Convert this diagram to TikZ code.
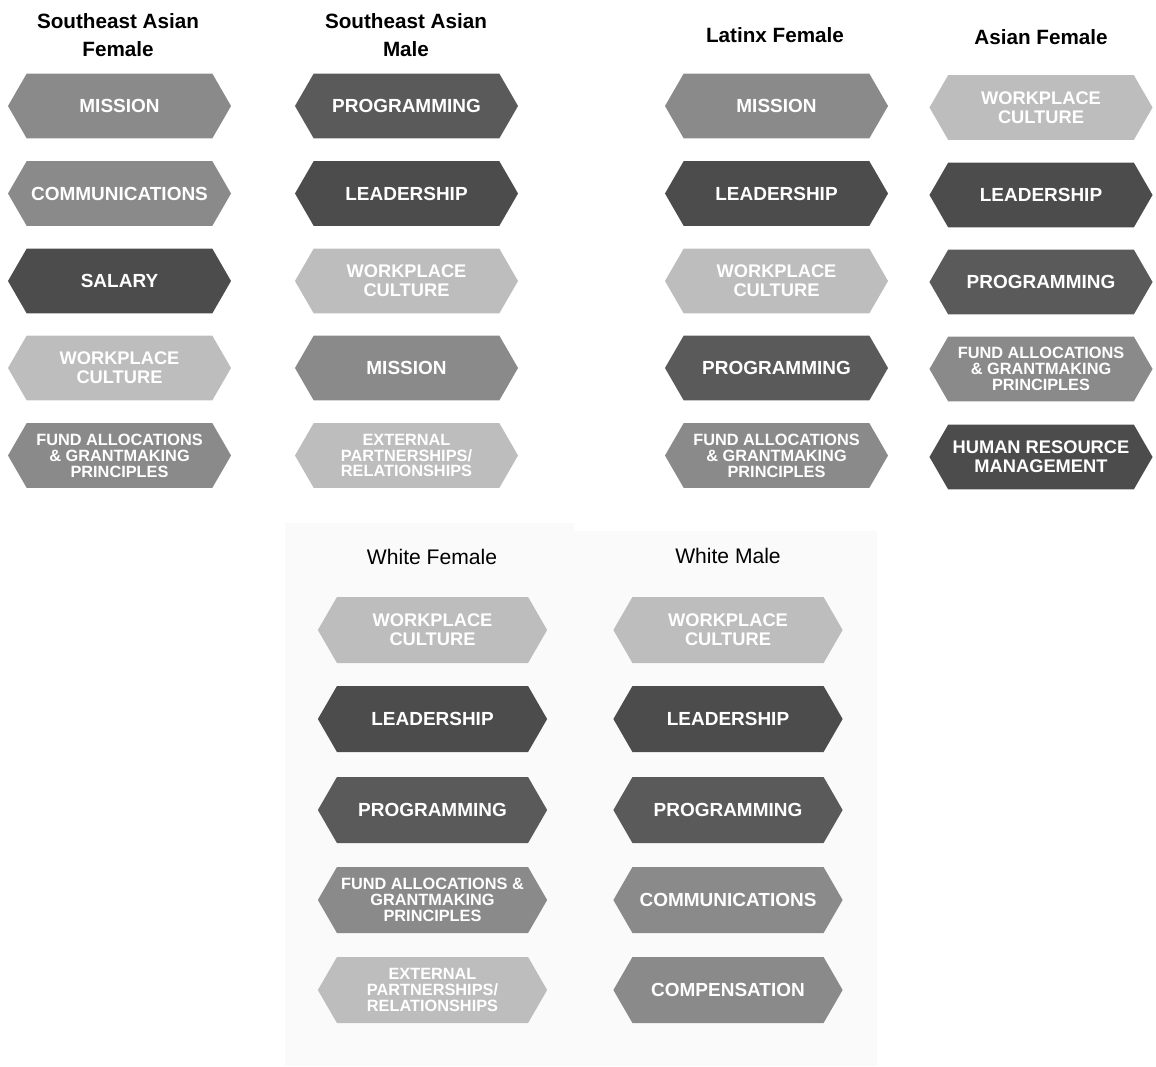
\documentclass[tikz,border=0pt]{standalone}
\usepackage{fontspec}
\setmainfont{Liberation Sans}
\usetikzlibrary{shapes.symbols}
\definecolor{hexdark}{HTML}{4C4C4C}
\definecolor{hexprog}{HTML}{5A5A5A}
\definecolor{hexmid}{HTML}{8A8A8A}
\definecolor{hexlight}{HTML}{BDBDBD}
\definecolor{panelgray}{HTML}{FAFAFA}
\newcommand{\hexone}{\fontsize{13.5}{13.5}\selectfont\bfseries}
\newcommand{\hextwo}{\fontsize{13}{13.4}\selectfont\bfseries}
\newcommand{\hexthree}{\fontsize{11.6}{11.3}\selectfont\bfseries}
\begin{document}
\begin{tikzpicture}[x=0.025cm,y=-0.025cm]
	\tikzset{hexbox/.style={signal,signal to=west and east,signal pointer angle=120,
		fill=#1,draw=none,text=white,align=center,inner sep=0pt,
		minimum width=5.575cm,minimum height=1.62cm},
		lowbox/.style={hexbox=#1,minimum width=5.73cm,minimum height=1.65cm},
		grouptitle/.style={align=center,font=\fontsize{14.7}{19.9}\selectfont\bfseries},
		whitetitle/.style={font=\fontsize{15}{18}\selectfont}
	}
	\useasboundingbox (0,0) rectangle (1156,1066);
	\fill [panelgray] (285,523) rectangle (574,1066);
	\fill [panelgray] (574,531) rectangle (877,1066);

	\node [grouptitle] (tsf) at (118,35) {Southeast Asian\\Female};
	\node [grouptitle] (tsm) at (406,35) {Southeast Asian\\Male};
	\node [grouptitle] (tlf) at (775,35) {Latinx Female};
	\node [grouptitle] (taf) at (1041,37) {Asian Female};

	\node [hexbox=hexmid,font=\hexone] (sf1) at (119.5,106) {MISSION};
	\node [hexbox=hexmid,font=\hexone] (sf2) at (119.5,193.5) {COMMUNICATIONS};
	\node [hexbox=hexdark,font=\hexone] (sf3) at (119.5,281) {SALARY};
	\node [hexbox=hexlight,font=\hextwo] (sf4) at (119.5,368) {WORKPLACE\\CULTURE};
	\node [hexbox=hexmid,font=\hexthree] (sf5) at (119.5,455.5) {FUND ALLOCATIONS\\\& GRANTMAKING\\PRINCIPLES};

	\node [hexbox=hexprog,font=\hexone] (sm1) at (406.5,106) {PROGRAMMING};
	\node [hexbox=hexdark,font=\hexone] (sm2) at (406.5,193.5) {LEADERSHIP};
	\node [hexbox=hexlight,font=\hextwo] (sm3) at (406.5,281) {WORKPLACE\\CULTURE};
	\node [hexbox=hexmid,font=\hexone] (sm4) at (406.5,368) {MISSION};
	\node [hexbox=hexlight,font=\hexthree] (sm5) at (406.5,455.5) {EXTERNAL\\PARTNERSHIPS/\\RELATIONSHIPS};

	\node [hexbox=hexmid,font=\hexone] (lf1) at (776.5,106) {MISSION};
	\node [hexbox=hexdark,font=\hexone] (lf2) at (776.5,193.5) {LEADERSHIP};
	\node [hexbox=hexlight,font=\hextwo] (lf3) at (776.5,281) {WORKPLACE\\CULTURE};
	\node [hexbox=hexprog,font=\hexone] (lf4) at (776.5,368) {PROGRAMMING};
	\node [hexbox=hexmid,font=\hexthree] (lf5) at (776.5,455.5) {FUND ALLOCATIONS\\\& GRANTMAKING\\PRINCIPLES};

	\node [hexbox=hexlight,font=\hextwo] (af1) at (1041,107.5) {WORKPLACE\\CULTURE};
	\node [hexbox=hexdark,font=\hexone] (af2) at (1041,195) {LEADERSHIP};
	\node [hexbox=hexprog,font=\hexone] (af3) at (1041,282) {PROGRAMMING};
	\node [hexbox=hexmid,font=\hexthree] (af4) at (1041,369) {FUND ALLOCATIONS\\\& GRANTMAKING\\PRINCIPLES};
	\node [hexbox=hexdark,font=\hextwo] (af5) at (1041,457) {HUMAN RESOURCE\\MANAGEMENT};

	\node [whitetitle] (twf) at (432,557) {White Female};
	\node [whitetitle] (twm) at (728,556) {White Male};

	\node [lowbox=hexlight,font=\hextwo] (wf1) at (432.5,630) {WORKPLACE\\CULTURE};
	\node [lowbox=hexdark,font=\hexone] (wf2) at (432.5,719) {LEADERSHIP};
	\node [lowbox=hexprog,font=\hexone] (wf3) at (432.5,810) {PROGRAMMING};
	\node [lowbox=hexmid,font=\hexthree] (wf4) at (432.5,900) {FUND ALLOCATIONS \&\\GRANTMAKING\\PRINCIPLES};
	\node [lowbox=hexlight,font=\hexthree] (wf5) at (432.5,990) {EXTERNAL\\PARTNERSHIPS/\\RELATIONSHIPS};

	\node [lowbox=hexlight,font=\hextwo] (wm1) at (728,630) {WORKPLACE\\CULTURE};
	\node [lowbox=hexdark,font=\hexone] (wm2) at (728,719) {LEADERSHIP};
	\node [lowbox=hexprog,font=\hexone] (wm3) at (728,810) {PROGRAMMING};
	\node [lowbox=hexmid,font=\hexone] (wm4) at (728,900) {COMMUNICATIONS};
	\node [lowbox=hexmid,font=\hexone] (wm5) at (728,990) {COMPENSATION};
\end{tikzpicture}
\end{document}
